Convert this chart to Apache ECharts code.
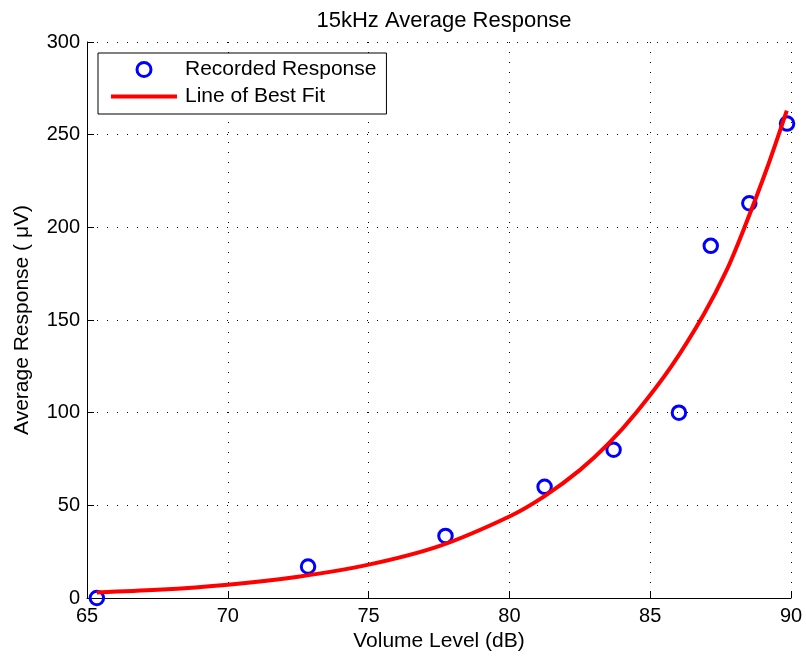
<!DOCTYPE html>
<html>
<head>
<meta charset="utf-8">
<script src="https://cdn.jsdelivr.net/npm/echarts@6/dist/echarts.min.js"></script>
<style>
  html, body { margin: 0; padding: 0; background: #fff; }
  #chart { width: 806px; height: 657px; }
</style>
</head>
<body>
<div id="chart"></div>
<script>
// recorded points
const volumeLevels = [65.35, 72.85, 77.73, 81.25, 83.7, 86.02, 87.15, 88.52, 89.86];
const recordedResponse = [0, 17, 33.5, 60, 80, 100, 190, 213, 256];

// best fit curve, sampled off the plot
const fitLevels = [65.35, 67.5, 70, 72.5, 75, 77.5, 80, 81.25, 82.5, 83.5, 84.5, 85.75, 86.9, 87.72, 88.35, 89.15, 89.85];
const fitResponse = [3, 4.4, 7.2, 11.5, 18, 28, 44, 55, 69, 83, 100, 125, 153, 177, 200, 232, 263];

const FONT = "'Liberation Sans', Arial, sans-serif";

const chart = echarts.init(document.getElementById("chart"));

chart.setOption({
  backgroundColor: "#fff",
  animation: false,
  title: {
    text: "15kHz Average Response",
    left: 439,
    textAlign: "center",
    top: 5,
    textStyle: { color: "#000", fontFamily: FONT, fontSize: 22, fontWeight: "normal" }
  },
  grid: { left: 87, right: 15, top: 42, bottom: 59 },
  legend: {
    left: 98,
    top: 53,
    orient: "vertical",
    itemWidth: 66,
    itemHeight: 14,
    itemGap: 6,
    padding: [6, 10, 7, 13],
    backgroundColor: "#fff",
    borderColor: "#000",
    borderWidth: 1,
    borderRadius: 0,
    textStyle: { color: "#000", fontFamily: FONT, fontSize: 21, padding: [0, 0, 0, 3] },
    data: [
      {
        name: "Recorded Response",
        icon: "circle",
        itemStyle: { color: "#fff", borderColor: "#0000ff", borderWidth: 3 }
      },
      {
        name: "Line of Best Fit",
        icon: "path://M0,0H66V4H0Z",
        itemStyle: { color: "#ff0000", borderWidth: 0 }
      }
    ]
  },
  xAxis: {
    type: "value",
    min: 65,
    max: 90,
    interval: 5,
    name: "Volume Level (dB)",
    nameLocation: "middle",
    nameGap: 31,
    nameTextStyle: { color: "#000", fontFamily: FONT, fontSize: 21 },
    axisLine: { onZero: false, lineStyle: { color: "#000", width: 1 } },
    axisTick: { inside: true, length: 7, lineStyle: { color: "#000" } },
    axisLabel: { color: "#000", fontFamily: FONT, fontSize: 20, margin: 8 },
    splitLine: { show: true, lineStyle: { color: "#000", width: 1, type: [1, 9] } }
  },
  yAxis: {
    type: "value",
    min: 0,
    max: 300,
    interval: 50,
    name: "Average Response ( μV)",
    nameLocation: "middle",
    nameGap: 54,
    nameTextStyle: { color: "#000", fontFamily: FONT, fontSize: 21 },
    axisLine: { show: true, lineStyle: { color: "#000", width: 1 } },
    axisTick: { show: true, inside: true, length: 7, lineStyle: { color: "#000" } },
    axisLabel: { color: "#000", fontFamily: FONT, fontSize: 20, margin: 7 },
    splitLine: { show: true, lineStyle: { color: "#000", width: 1, type: [1, 9] } }
  },
  series: [
    {
      name: "Recorded Response",
      type: "scatter",
      data: volumeLevels.map((v, i) => [v, recordedResponse[i]]),
      symbol: "circle",
      symbolSize: 13.5,
      itemStyle: { color: "rgba(0,0,0,0)", borderColor: "#0000ff", borderWidth: 3, opacity: 1 },
      z: 2
    },
    {
      name: "Line of Best Fit",
      type: "line",
      data: fitLevels.map((v, i) => [v, fitResponse[i]]),
      smooth: 0.3,
      symbol: "none",
      lineStyle: { color: "#ff0000", width: 4 },
      itemStyle: { color: "#ff0000" },
      z: 3
    }
  ]
});
</script>
</body>
</html>
